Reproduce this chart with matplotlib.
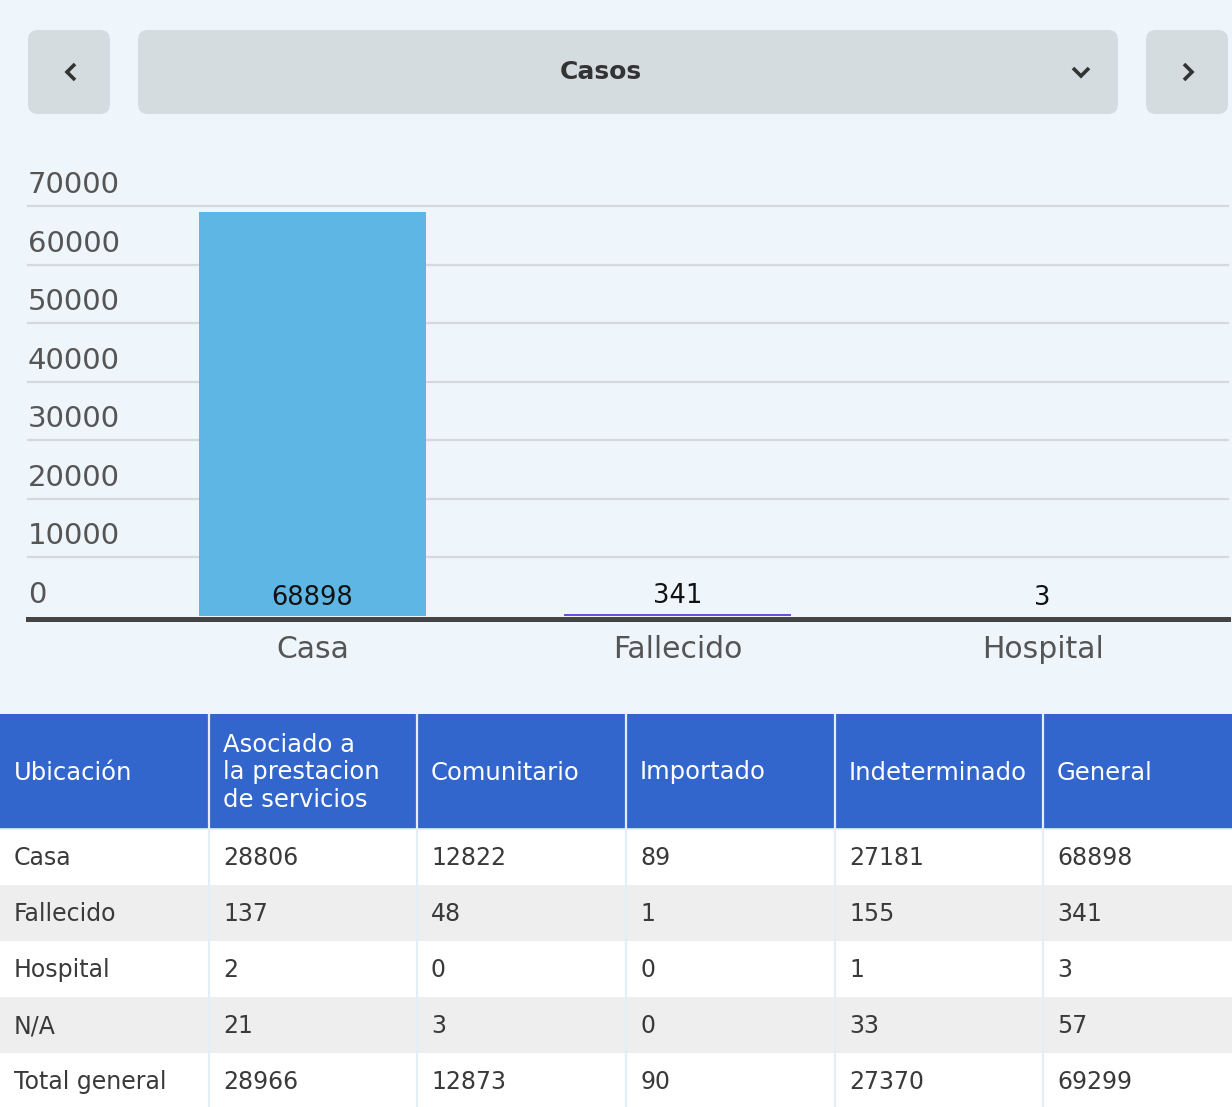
import matplotlib
matplotlib.use("Agg")
import matplotlib.pyplot as plt
from matplotlib.patches import FancyBboxPatch, Rectangle
from matplotlib.transforms import offset_copy, blended_transform_factory

plt.rcParams['font.family'] = ['DejaVu Sans']

# ---------------- data ----------------
categories = ["Casa", "Fallecido", "Hospital"]
values = [68898, 341, 3]
bar_colors = ["#5EB6E4", "#6A4FD8", "#D9919F"]
y_ticks = [0, 10000, 20000, 30000, 40000, 50000, 60000, 70000]
selector_label = "Casos"

table_header = ["Ubicación", "Asociado a\nla prestacion\nde servicios", "Comunitario",
                "Importado", "Indeterminado", "General"]
row_labels = ["Casa", "Fallecido", "Hospital", "N/A", "Total general"]
col_asociado = [28806, 137, 2, 21, 28966]
col_comunitario = [12822, 48, 0, 3, 12873]
col_importado = [89, 1, 0, 0, 90]
col_indeterminado = [27181, 155, 1, 33, 27370]
col_general = [68898, 341, 3, 57, 69299]

# ---------------- figure ----------------
W, H = 1232, 1107
BG = "#EEF5FB"
fig = plt.figure(figsize=(W / 100, H / 100), dpi=100, facecolor=BG)

# background axes in pixel coordinates (y down)
bg = fig.add_axes([0, 0, 1, 1])
bg.set_xlim(0, W)
bg.set_ylim(H, 0)
bg.axis("off")
bg.set_facecolor(BG)

BTN = "#D5DCE0"
def rbox(x0, y0, x1, y1, color, r=10):
    p = FancyBboxPatch((x0, y0), x1 - x0, y1 - y0,
                       boxstyle=f"round,pad=0,rounding_size={r}",
                       fc=color, ec="none")
    bg.add_patch(p)

rbox(28, 30, 110, 114, BTN)
rbox(138, 30, 1118, 114, BTN)
rbox(1146, 30, 1228, 114, BTN)
bg.text(601, 72, selector_label, ha="center", va="center", fontsize=18,
        fontweight="bold", color="#333333")
chev = dict(color="#333333", lw=2.6, solid_capstyle="butt", solid_joinstyle="miter")
bg.plot([75, 67, 75], [64, 72, 80], **chev)
bg.plot([1073, 1081, 1089], [68, 76, 68], **chev)
bg.plot([1184, 1192, 1184], [64, 72, 80], **chev)

# ---------------- table ----------------
col_edges = [0, 209, 417, 626, 835, 1043, W]
header_top, header_bot = 714, 829
row_h = 56
rows = list(zip(row_labels, col_asociado, col_comunitario, col_importado,
                col_indeterminado, col_general))
line_c = "#E4EEF8"
bg.add_patch(Rectangle((0, header_top), W, header_bot - header_top, fc="#3366CC", ec="none"))
for j, txt in enumerate(table_header):
    x0 = col_edges[j]
    bg.text(x0 + 14, (header_top + header_bot) / 2 + 1, txt, ha="left", va="center",
            fontsize=17.5, color="white", linespacing=1.2)
for i, row in enumerate(rows):
    y0 = header_bot + i * row_h
    fc = "#FFFFFF" if i % 2 == 0 else "#EEEEEE"
    bg.add_patch(Rectangle((0, y0), W, row_h, fc=fc, ec="none"))
    for j, v in enumerate(row):
        bg.text(col_edges[j] + 14, y0 + row_h / 2 + 1, str(v), ha="left", va="center",
                fontsize=17, color="#3a3a3a")
for x in col_edges[1:-1]:
    bg.plot([x, x], [header_top, H], color=line_c, lw=1.6)
bg.plot([0, W], [header_bot, header_bot], color=line_c, lw=1.2)

# ---------------- bar chart ----------------
ax_left, ax_right = 28, 1228
ax_top, ax_bot = 206, 616
ax = fig.add_axes([ax_left / W, (H - ax_bot) / H, (ax_right - ax_left) / W,
                   (ax_bot - ax_top) / H])
ax.set_facecolor("none")
xs = list(range(len(categories)))
ax.bar(xs, values, width=0.622, color=bar_colors, zorder=2)
ax.set_xlim(-0.779, 2.508)
ax.set_ylim(0, 70000)
for s in ["top", "right", "left"]:
    ax.spines[s].set_visible(False)
ax.spines["bottom"].set_color("#444444")
ax.spines["bottom"].set_linewidth(3.6)
ax.spines["bottom"].set_position(("outward", 1.8))
ax.spines["bottom"].set_zorder(3)
ax.set_yticks(y_ticks)
ax.set_yticklabels([])
ax.tick_params(axis="y", length=0)
ax.grid(axis="y", color="#D3D9DD", lw=1.6, zorder=0)
for k, gl in enumerate(ax.get_ygridlines()):
    gl.set_clip_on(False)
    if y_ticks[k] == 0:
        gl.set_visible(False)
ax.set_xticks(xs)
ax.set_xticklabels(categories, fontsize=21.5, color="#555555")
ax.tick_params(axis="x", length=0, pad=12)

tr = blended_transform_factory(ax.transAxes, ax.transData)
tr_up = offset_copy(tr, fig=fig, x=0, y=7, units="dots")
for t in y_ticks:
    ax.text(0, t, str(t), transform=tr_up, ha="left", va="bottom",
            fontsize=21, color="#555555")

tr_v = offset_copy(ax.transData, fig=fig, x=0, y=5, units="dots")
for x, v in zip(xs, values):
    ax.text(x, max(v, 0) if v < 3000 else 0, str(v), transform=tr_v, ha="center",
            va="bottom", fontsize=18.5, color="#111111", zorder=4)

fig.savefig("out.png", dpi=100, facecolor=BG)
